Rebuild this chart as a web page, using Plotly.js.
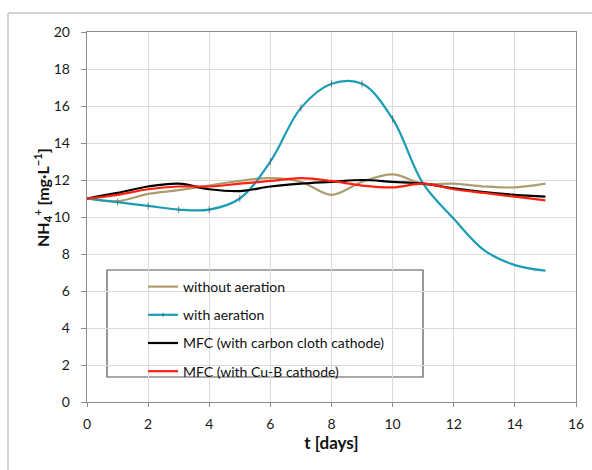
<!DOCTYPE html>
<html>
<head>
<meta charset="utf-8">
<script src="https://cdn.plot.ly/plotly-3.0.1.min.js"></script>
<style>
  html, body { margin: 0; padding: 0; background: #fff; }
  #chart { width: 592px; height: 470px; }
</style>
</head>
<body>
<div id="chart"></div>
<script>
// ---- data ----
const days = [0, 1, 2, 3, 4, 5, 6, 7, 8, 9, 10, 11, 12, 13, 14, 15];
const withoutAeration = [11.0, 10.85, 11.25, 11.45, 11.7, 11.95, 12.1, 11.9, 11.2, 11.9, 12.3, 11.8, 11.8, 11.65, 11.6, 11.8];
const withAeration    = [11.0, 10.8, 10.6, 10.4, 10.4, 11.0, 13.0, 15.9, 17.2, 17.2, 15.3, 11.8, 9.9, 8.2, 7.4, 7.1];
const mfcCarbonCloth  = [11.0, 11.3, 11.65, 11.8, 11.5, 11.4, 11.65, 11.8, 11.9, 12.0, 11.9, 11.8, 11.55, 11.35, 11.2, 11.1];
const mfcCuB          = [11.0, 11.2, 11.5, 11.65, 11.65, 11.8, 11.95, 12.1, 11.95, 11.7, 11.6, 11.8, 11.5, 11.3, 11.1, 10.9];
const seriesNames = ["without aeration", "with aeration", "MFC (with carbon cloth cathode)", "MFC (with Cu-B cathode)"];
const yTicks = [0, 2, 4, 6, 8, 10, 12, 14, 16, 18, 20];
const xTicks = [0, 2, 4, 6, 8, 10, 12, 14, 16];

// ---- styling ----
const FONT = "Lato, 'Open Sans', sans-serif";
const colors = ["#AC9E6E", "#1A9CB4", "#000000", "#FF2010"];
const seriesData = [withoutAeration, withAeration, mfcCarbonCloth, mfcCuB];

const traces = seriesData.map((ys, i) => {
  const t = {
    x: days, y: ys, name: seriesNames[i], type: "scatter",
    mode: "lines",
    line: { color: colors[i], width: 2.2, shape: "spline", smoothing: 1 },
    legendgroup: "g" + i,
    hoverinfo: "x+y+name"
  };
  if (i === 1) {
    t.mode = "lines+markers";
    t.marker = {
      symbol: "line-ns",
      size: days.map(d => (d >= 1 && d <= 10) ? 5 : 0),
      line: { color: "#555", width: 1 },
      color: "#555"
    };
  }
  return t;
});

// pixel helpers for paper coordinates (plot area 87..576 x 32..402)
const L = 87, R = 576, T = 32, B = 402;
const px = v => (v - L) / (R - L);
const py = v => (B - v) / (B - T);

const layout = {
  width: 592, height: 470,
  margin: { l: L, r: 592 - R, t: T, b: 470 - B, pad: 0 },
  paper_bgcolor: "#ffffff",
  plot_bgcolor: "#ffffff",
  font: { family: FONT, size: 14, color: "#1a1a1a" },
  showlegend: true,
  legend: {
    x: px(143), y: py(271), xanchor: "left", yanchor: "top",
    bgcolor: "rgba(0,0,0,0)", borderwidth: 0,
    font: { family: FONT, size: 14, color: "#111" },
    tracegroupgap: 7,
    itemwidth: 30
  },
  xaxis: {
    range: [0, 16], tickvals: xTicks, ticktext: xTicks.map(String),
    showgrid: true, gridcolor: "#dcdcdc", gridwidth: 1,
    zeroline: false, showline: true, linecolor: "#8c8c8c", linewidth: 1.3, mirror: true,
    ticks: "outside", ticklen: 4, tickcolor: "#8c8c8c", tickwidth: 1,
    ticklabelstandoff: 5,
    tickfont: { family: FONT, size: 14, color: "#1a1a1a" },
    title: { text: "<b>t [days]</b>", font: { family: FONT, size: 17, color: "#111" }, standoff: 6 }
  },
  yaxis: {
    range: [0, 20], tickvals: yTicks, ticktext: yTicks.map(String),
    showgrid: true, gridcolor: "#dcdcdc", gridwidth: 1,
    zeroline: false, showline: true, linecolor: "#8c8c8c", linewidth: 1.3, mirror: true,
    ticks: "outside", ticklen: 5, tickcolor: "#8c8c8c", tickwidth: 1,
    ticklabelstandoff: 8,
    tickfont: { family: FONT, size: 14, color: "#1a1a1a" }
  },
  annotations: [{
    xref: "paper", yref: "paper", x: px(42), y: py(198),
    text: "<b>NH<sub>4</sub><sup>+</sup> [mg·L<sup>−1</sup>]</b>",
    textangle: -90, showarrow: false,
    font: { family: FONT, size: 16, color: "#111" },
    xanchor: "center", yanchor: "middle"
  }],
  shapes: [
    // outer chart frame (top and left edges visible)
    { type: "line", xref: "paper", yref: "paper", x0: px(8), x1: px(600), y0: py(13), y1: py(13),
      line: { color: "#d4d4d4", width: 2 } },
    { type: "line", xref: "paper", yref: "paper", x0: px(8), x1: px(8), y0: py(13), y1: py(480),
      line: { color: "#d4d4d4", width: 2 } },
    // legend box
    { type: "rect", xref: "paper", yref: "paper", x0: px(107), x1: px(423), y0: py(377), y1: py(270),
      fillcolor: "#ffffff", line: { color: "#555", width: 1.2 }, layer: "below" }
  ]
};

Plotly.newPlot("chart", traces, layout, { displayModeBar: false, staticPlot: true });
</script>
</body>
</html>
